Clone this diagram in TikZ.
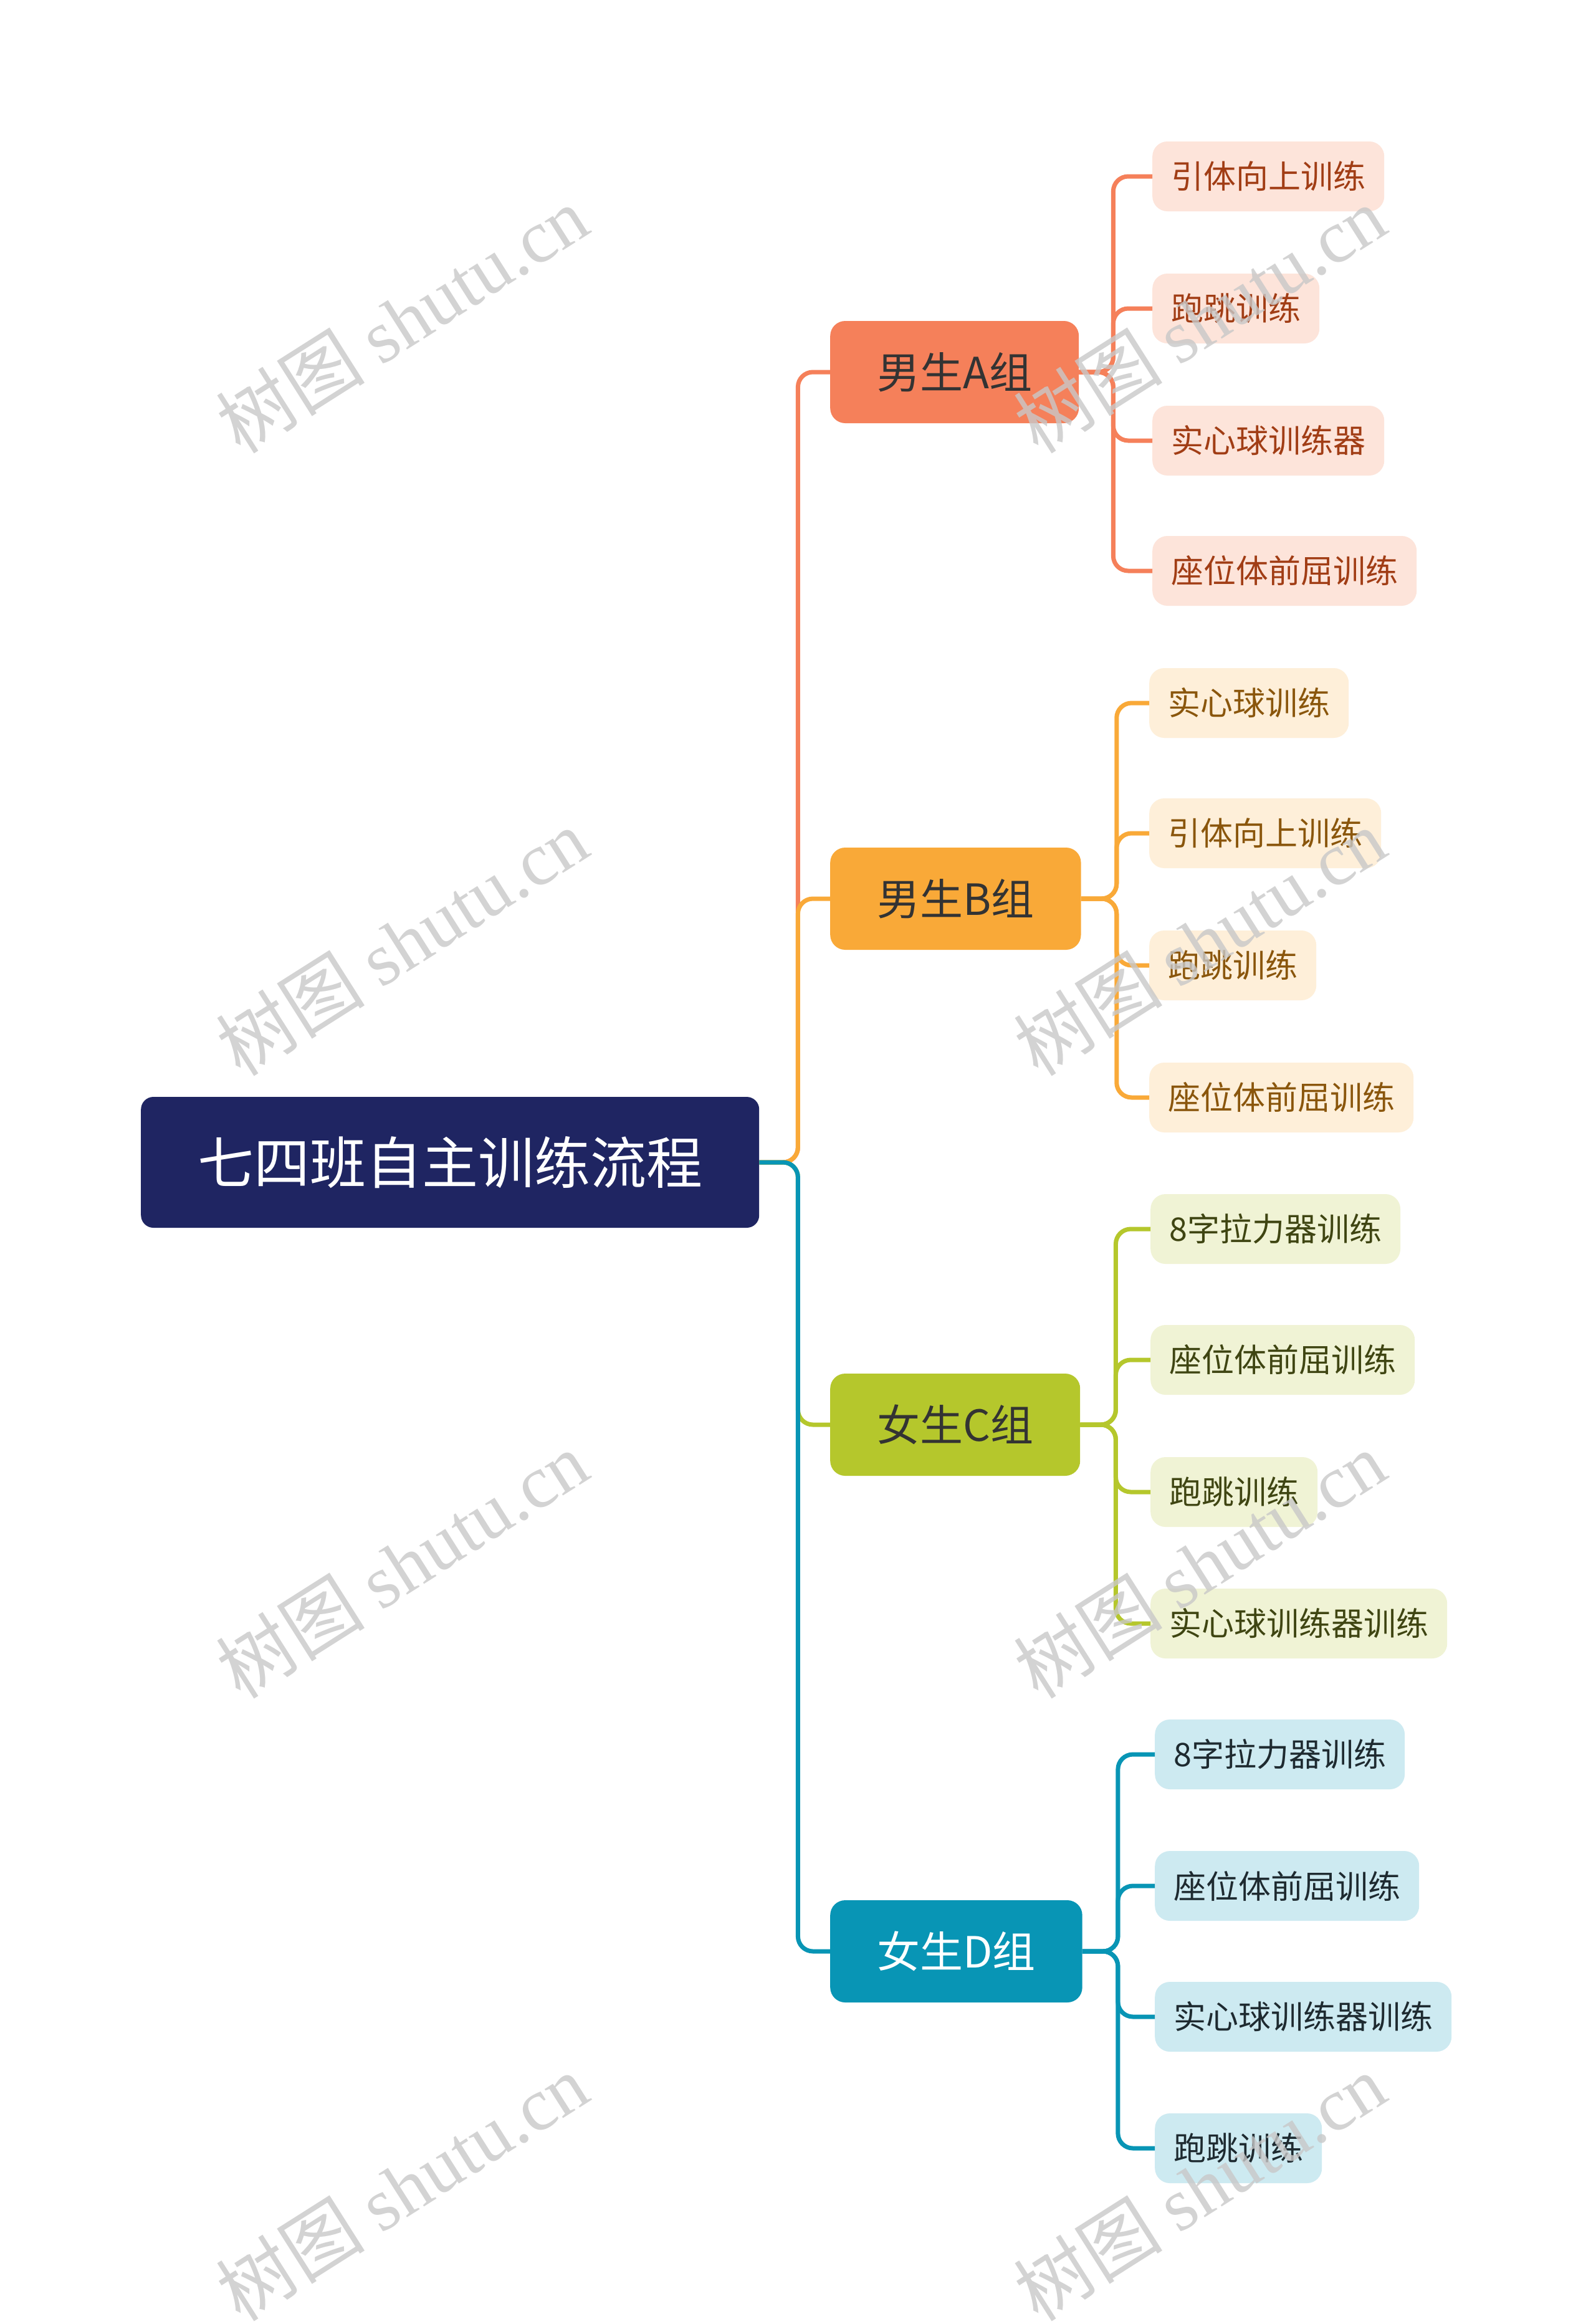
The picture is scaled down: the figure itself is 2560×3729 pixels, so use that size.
\documentclass[tikz,border=0pt]{standalone}
\usepackage{fontspec}
\setmainfont{Noto Sans CJK SC}
\newfontfamily\wmcjk{Noto Sans CJK SC}
\newfontfamily\wmlat{Liberation Serif}
\definecolor{rootc}{HTML}{1F2562}
\definecolor{cA}{HTML}{F5805A}
\definecolor{cB}{HTML}{F9A938}
\definecolor{cC}{HTML}{B5C72C}
\definecolor{cD}{HTML}{0895B5}
\definecolor{lA}{HTML}{FDE4DA}
\definecolor{lB}{HTML}{FEEFD9}
\definecolor{lC}{HTML}{F0F3D5}
\definecolor{lD}{HTML}{CDEAF1}
\definecolor{tA}{HTML}{A13D15}
\definecolor{tB}{HTML}{8A560C}
\definecolor{tC}{HTML}{3F4512}
\definecolor{tD}{HTML}{1E2A30}
\definecolor{gtx}{HTML}{333333}
\definecolor{wm}{HTML}{C8C8C8}
\tikzset{
  rootbox/.style={fill=rootc, rounded corners=20pt, text=white, font=\fontsize{90}{100}\selectfont, minimum height=210pt, inner xsep=91pt, inner ysep=0pt, anchor=west},
  grpbox/.style={rounded corners=24pt, font=\fontsize{69}{80}\selectfont, minimum height=164pt, inner xsep=75pt, inner ysep=0pt, anchor=west},
  leafbox/.style={rounded corners=24pt, font=\fontsize{52}{60}\selectfont, minimum height=112pt, inner xsep=30pt, inner ysep=0pt, anchor=west},
  conn/.style={line width=7pt, rounded corners=24pt},
  wmark/.style={rotate=32.4, text=wm, opacity=0.8, font=\fontsize{120}{130}\selectfont},
}
\begin{document}
\begin{tikzpicture}[x=1pt,y=-1pt]
\path[use as bounding box, fill=white] (0,0) rectangle (2560,3729);
% root
\node[rootbox] (root) at (226,1865) {七四班自主训练流程};
% groups
\node[grpbox, fill=cA, text=gtx] (gA) at (1332,597) {男生A组};
\node[grpbox, fill=cB, text=gtx] (gB) at (1332,1442) {男生B组};
\node[grpbox, fill=cC, text=gtx] (gC) at (1332,2286) {女生C组};
\node[grpbox, fill=cD, text=white] (gD) at (1332,3131) {女生D组};
% leaves A
\node[leafbox, fill=lA, text=tA] (a1) at (1849,283) {引体向上训练};
\node[leafbox, fill=lA, text=tA] (a2) at (1849,495) {跑跳训练};
\node[leafbox, fill=lA, text=tA] (a3) at (1849,707) {实心球训练器};
\node[leafbox, fill=lA, text=tA] (a4) at (1849,916) {座位体前屈训练};
% leaves B
\node[leafbox, fill=lB, text=tB] (b1) at (1844,1128) {实心球训练};
\node[leafbox, fill=lB, text=tB] (b2) at (1844,1337) {引体向上训练};
\node[leafbox, fill=lB, text=tB] (b3) at (1844,1549) {跑跳训练};
\node[leafbox, fill=lB, text=tB] (b4) at (1844,1761) {座位体前屈训练};
% leaves C
\node[leafbox, fill=lC, text=tC] (c1) at (1846,1972) {8字拉力器训练};
\node[leafbox, fill=lC, text=tC] (c2) at (1846,2182) {座位体前屈训练};
\node[leafbox, fill=lC, text=tC] (c3) at (1846,2394) {跑跳训练};
\node[leafbox, fill=lC, text=tC] (c4) at (1846,2605) {实心球训练器训练};
% leaves D
\node[leafbox, fill=lD, text=tD] (d1) at (1853,2815) {8字拉力器训练};
\node[leafbox, fill=lD, text=tD] (d2) at (1853,3026) {座位体前屈训练};
\node[leafbox, fill=lD, text=tD] (d3) at (1853,3236) {实心球训练器训练};
\node[leafbox, fill=lD, text=tD] (d4) at (1853,3447) {跑跳训练};
% root connectors
\draw[conn, cA] (root.east) -- ++(62,0) |- (gA.west);
\draw[conn, cB] (root.east) -- ++(62,0) |- (gB.west);
\draw[conn, cC] (root.east) -- ++(62,0) |- (gC.west);
\draw[conn, cD] (root.east) -- ++(62,0) |- (gD.west);
% group connectors
\foreach \l in {a1,a2,a3,a4} \draw[conn, cA] (gA.east) -- ++(55,0) |- (\l.west);
\foreach \l in {b1,b2,b3,b4} \draw[conn, cB] (gB.east) -- ++(57,0) |- (\l.west);
\foreach \l in {c1,c2,c3,c4} \draw[conn, cC] (gC.east) -- ++(57,0) |- (\l.west);
\foreach \l in {d1,d2,d3,d4} \draw[conn, cD] (gD.east) -- ++(57,0) |- (\l.west);
% watermarks
\foreach \wx in {645,1925} \foreach \wy in {512,1511,2510,3509}
  \node[wmark] (wm-\wx-\wy) at (\wx,\wy) {{\wmcjk 树图} {\wmlat shutu.cn}};
\end{tikzpicture}
\end{document}
